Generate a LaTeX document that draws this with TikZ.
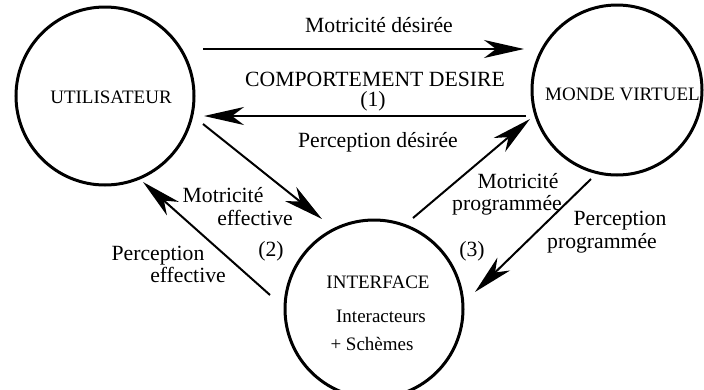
\documentclass[tikz,border=0pt]{standalone}
\usepackage{fontspec}
\setmainfont{Liberation Serif}
\usetikzlibrary{arrows.meta}
\tikzset{
  ring/.style={circle, draw, line width=3pt, inner sep=0pt},
  lbl/.style={anchor=base, inner sep=0pt, font=\fontsize{21.7}{23}\selectfont},
  ttl/.style={anchor=base, inner sep=0pt, font=\fontsize{19}{21}\selectfont},
  arr/.style={line width=2pt, -{Stealth[length=40pt,width=18pt,inset=12pt]}}
}
\begin{document}
\begin{tikzpicture}[x=1pt,y=-1pt]
\useasboundingbox (0,0) rectangle (704,389);
% circles
\node[ring, minimum size=178pt] (u) at (105,96) {};
\node[ring, minimum size=170pt] (m) at (617,90) {};
\node[ring, minimum size=178pt] (i) at (374,309) {};
% circle texts
\node[ttl] (ut) at (111,103) {UTILISATEUR};
\node[ttl, anchor=base west] (mt) at (545,100) {MONDE VIRTUEL};
\node[ttl] (it1) at (378,288) {INTERFACE};
\node[ttl] (it2) at (381,322) {Interacteurs};
\node[ttl] (it3) at (372,350) {+ Schèmes};
% labels
\node[lbl] (l1) at (379,32) {Motricité désirée};
\node[lbl] (l2) at (375,86) {COMPORTEMENT DESIRE};
\node[lbl] (l3) at (373,106) {(1)};
\node[lbl] (l4) at (378,147) {Perception désirée};
\node[lbl] (l5a) at (223,202) {Motricité};
\node[lbl] (l5b) at (255,225) {effective};
\node[lbl] (l6) at (271,256) {(2)};
\node[lbl] (l7a) at (158,260) {Perception};
\node[lbl] (l7b) at (188,282) {effective};
\node[lbl] (l8a) at (518,188) {Motricité};
\node[lbl] (l8b) at (507,210) {programmée};
\node[lbl] (l9a) at (620,225) {Perception};
\node[lbl] (l9b) at (602,248) {programmée};
\node[lbl] (l10) at (472,256) {(3)};
% connector end points
\coordinate (a1s) at (203,49);  \coordinate (a1e) at (524,49);
\coordinate (a2s) at (526,116); \coordinate (a2e) at (204,116);
\coordinate (a3s) at (203,124); \coordinate (a3e) at (322,219);
\coordinate (a4s) at (270,295); \coordinate (a4e) at (143,182);
\coordinate (a5s) at (413,218); \coordinate (a5e) at (530,119);
\coordinate (a6s) at (591,179); \coordinate (a6e) at (475,292);
\draw[arr] (a1s) -- (a1e);
\draw[arr] (a2s) -- (a2e);
\draw[arr] (a3s) -- (a3e);
\draw[arr] (a4s) -- (a4e);
\draw[arr] (a5s) -- (a5e);
\draw[arr] (a6s) -- (a6e);
\end{tikzpicture}
\end{document}
